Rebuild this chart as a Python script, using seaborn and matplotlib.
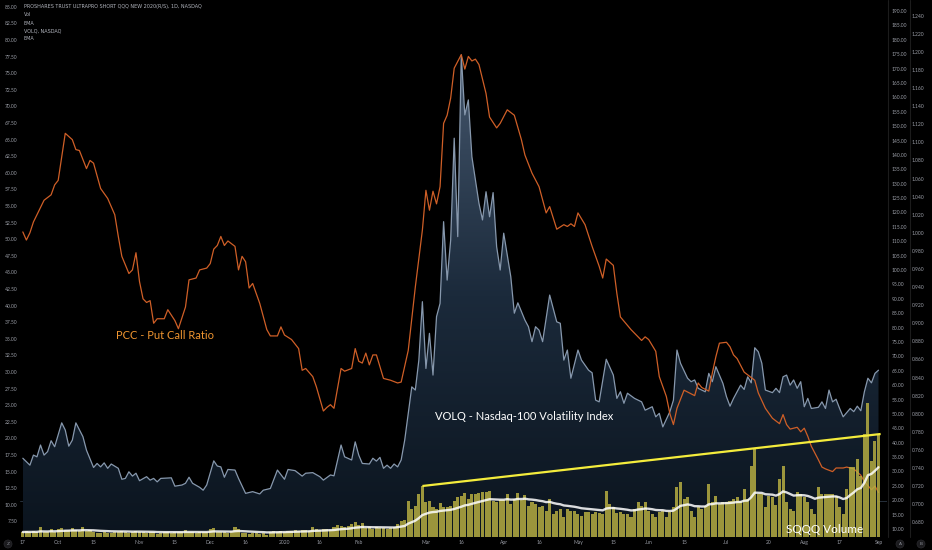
import matplotlib
matplotlib.use("Agg")
import matplotlib.pyplot as plt
from matplotlib.colors import LinearSegmentedColormap
from matplotlib.lines import Line2D
from matplotlib.patches import Polygon
import numpy as np
import pandas as pd
import seaborn as sns

W, H = 932, 550

# trading sessions on the chart (NYSE calendar)
holidays = ["2019-11-28", "2019-12-25", "2020-01-01", "2020-01-20",
            "2020-02-17", "2020-04-10", "2020-05-25", "2020-07-03"]
sessions = pd.bdate_range("2019-09-17", "2020-09-01", freq="C", holidays=holidays)

tick_dates = ["2019-09-17", "2019-10-01", "2019-10-15", "2019-11-01", "2019-11-15",
              "2019-12-02", "2019-12-16", "2020-01-02", "2020-01-16", "2020-02-03",
              "2020-03-02", "2020-03-16", "2020-04-01", "2020-04-16", "2020-05-01",
              "2020-05-15", "2020-06-01", "2020-06-15", "2020-07-01", "2020-07-20",
              "2020-08-03", "2020-08-17", "2020-09-01"]
tick_labels = ["17", "Oct", "15", "Nov", "15", "Dec", "16", "2020", "16", "Feb",
               "Mar", "16", "Apr", "16", "May", "15", "Jun", "15", "Jul", "20",
               "Aug", "17", "Sep"]

# SQQQ daily volume (approx, one value per session)
sqqq_volume = [
    5, 6, 5, 6, 5, 10, 5, 5, 8, 5,
    8, 9, 7, 7, 9, 7, 6, 10, 6, 7,
    5, 4, 4, 5, 4, 4, 5, 5, 6, 5,
    4, 5, 6, 5, 5, 4, 5, 5, 3, 4,
    5, 5, 4, 5, 5, 5, 7, 5, 5, 4,
    5, 5, 5, 8, 9, 5, 5, 5, 4, 6,
    10, 8, 4, 4, 3, 4, 4, 3, 4, 2,
    5, 6, 5, 6, 5, 6, 6, 7, 6, 7,
    7, 6, 10, 8, 7, 8, 8, 7, 10, 12,
    11, 10, 11, 13, 15, 12, 14, 9, 10, 8,
    10, 9, 9, 8, 9, 10, 13, 16, 17, 36,
    28, 31, 43, 51, 35, 36, 30, 28, 34, 30,
    30, 31, 36, 40, 41, 44, 38, 43, 43, 44,
    45, 45, 46, 36, 35, 37, 37, 43, 33, 38,
    44, 37, 42, 31, 35, 33, 30, 31, 26, 38,
    23, 26, 28, 20, 28, 26, 26, 23, 21, 25,
    25, 23, 25, 24, 23, 46, 33, 30, 24, 25,
    23, 23, 20, 28, 35, 31, 35, 26, 23, 20,
    25, 26, 20, 25, 30, 50, 55, 38, 40, 26,
    20, 30, 28, 31, 53, 35, 41, 33, 35, 35,
    36, 38, 40, 36, 48, 38, 71, 88, 43, 43,
    30, 41, 40, 32, 58, 71, 35, 28, 26, 45,
    43, 40, 35, 28, 23, 50, 43, 43, 43, 43,
    41, 30, 23, 48, 70, 70, 78, 61, 103, 134,
    76, 96, 103,
]

# PCC put/call ratio, session number -> value
pcc_day = [0, 1, 2, 3, 4, 6, 7, 8, 9, 10, 12, 14,
           15, 16, 18, 19, 20, 22, 24, 26, 27, 28, 30, 31,
           32, 33, 34, 35, 36, 37, 38, 40, 41, 43, 44, 46,
           47, 49, 50, 52, 53, 54, 55, 56, 57, 58, 60, 61,
           62, 63, 64, 65, 67, 69, 70, 72, 73, 74, 76, 78,
           79, 80, 82, 83, 85, 86, 87, 88, 90, 91, 93, 94,
           95, 96, 97, 98, 99, 100, 102, 104, 106, 107, 109, 111,
           113, 114, 115, 116, 117, 118, 119, 120, 121, 122, 124, 125,
           126, 127, 128, 129, 131, 132, 134, 135, 137, 139, 141, 142,
           144, 146, 148, 149, 151, 153, 154, 155, 156, 157, 159, 161,
           163, 164, 165, 167, 168, 169, 172, 174, 175, 176, 177, 179,
           180, 182, 183, 184, 185, 187, 188, 190, 191, 192, 194, 195,
           196, 197, 199, 200, 201, 202, 204, 206, 207, 208, 210, 212,
           214, 215, 216, 217, 219, 220, 221, 222, 223, 225, 226, 227,
           229, 230, 232, 233, 235, 237, 238, 240, 241, 242]
pcc = [1.001, 0.992, 1.000, 1.012, 1.020, 1.036, 1.039, 1.042, 1.053, 1.058, 1.110, 1.103,
       1.092, 1.091, 1.071, 1.080, 1.077, 1.049, 1.038, 1.020, 0.996, 0.974, 0.955, 0.959,
       0.978, 0.946, 0.927, 0.923, 0.925, 0.900, 0.905, 0.905, 0.915, 0.903, 0.894, 0.918,
       0.948, 0.950, 0.959, 0.961, 0.966, 0.982, 0.986, 0.996, 0.986, 0.991, 0.985, 0.959,
       0.974, 0.968, 0.939, 0.944, 0.922, 0.893, 0.886, 0.886, 0.896, 0.887, 0.882, 0.872,
       0.848, 0.850, 0.841, 0.830, 0.803, 0.807, 0.810, 0.806, 0.850, 0.847, 0.850, 0.872,
       0.858, 0.856, 0.867, 0.854, 0.865, 0.865, 0.839, 0.837, 0.834, 0.835, 0.870, 0.940,
       1.003, 1.047, 1.025, 1.046, 1.032, 1.051, 1.121, 1.130, 1.149, 1.182, 1.197, 1.181,
       1.195, 1.190, 1.192, 1.186, 1.154, 1.128, 1.116, 1.121, 1.136, 1.130, 1.103, 1.086,
       1.066, 1.051, 1.022, 1.029, 1.004, 1.009, 1.007, 1.010, 1.007, 1.022, 1.009, 0.985,
       0.963, 0.950, 0.971, 0.964, 0.933, 0.907, 0.893, 0.885, 0.881, 0.885, 0.882, 0.869,
       0.841, 0.819, 0.800, 0.788, 0.806, 0.826, 0.824, 0.820, 0.834, 0.829, 0.825, 0.845,
       0.863, 0.878, 0.879, 0.874, 0.865, 0.861, 0.846, 0.840, 0.837, 0.823, 0.806, 0.795,
       0.789, 0.799, 0.788, 0.783, 0.785, 0.780, 0.784, 0.775, 0.764, 0.749, 0.741, 0.739,
       0.736, 0.740, 0.740, 0.741, 0.739, 0.732, 0.725, 0.716, 0.720, 0.713]

# VOLQ Nasdaq-100 volatility index, session number -> value
volq_day = [0, 2, 3, 4, 5, 6, 7, 8, 9, 11, 12, 13,
            14, 15, 17, 18, 20, 21, 22, 23, 24, 25, 27, 28,
            29, 30, 31, 32, 33, 35, 36, 37, 38, 39, 42, 43,
            45, 46, 47, 48, 50, 51, 52, 54, 55, 56, 57, 58,
            60, 61, 63, 65, 67, 68, 70, 72, 74, 75, 77, 79,
            80, 82, 84, 85, 87, 88, 90, 91, 93, 94, 95, 96,
            98, 99, 100, 101, 102, 103, 104, 105, 106, 107, 108, 110,
            111, 112, 113, 114, 115, 116, 117, 118, 119, 120, 121, 122,
            123, 124, 125, 126, 127, 128, 129, 130, 131, 132, 133, 134,
            135, 136, 138, 139, 140, 142, 143, 144, 145, 146, 147, 148,
            149, 151, 152, 153, 154, 155, 157, 158, 160, 161, 162, 163,
            165, 167, 168, 169, 170, 171, 173, 175, 176, 178, 179, 180,
            181, 183, 184, 185, 186, 188, 189, 190, 191, 192, 193, 194,
            195, 196, 198, 199, 200, 201, 203, 204, 205, 206, 207, 208,
            209, 210, 212, 213, 214, 215, 216, 217, 218, 219, 220, 221,
            222, 223, 225, 226, 227, 228, 229, 230, 231, 232, 234, 235,
            236, 237, 238, 239, 240, 241, 242]
volq = [34.6, 32.2, 35.7, 35.1, 39.2, 35.7, 36.9, 40.7, 38.6, 46.9, 44.4, 38.8,
        40.9, 46.9, 42.1, 37.4, 31.4, 32.8, 31.6, 33.0, 31.1, 32.6, 31.1, 27.3,
        27.6, 29.9, 28.4, 29.4, 26.8, 28.2, 27.0, 27.6, 26.4, 27.6, 27.8, 24.9,
        25.3, 25.9, 28.0, 25.9, 24.5, 23.5, 25.3, 33.7, 31.9, 31.6, 28.0, 30.7,
        30.5, 27.6, 22.4, 23.0, 22.2, 23.5, 24.1, 30.5, 27.3, 30.7, 30.3, 28.4,
        29.4, 29.6, 28.2, 27.0, 28.8, 28.5, 39.2, 35.1, 34.0, 40.3, 35.7, 32.8,
        32.6, 34.6, 33.6, 34.9, 31.1, 32.2, 31.1, 32.6, 31.6, 34.0, 40.9, 59.4,
        58.3, 68.7, 89.0, 65.8, 78.0, 63.5, 83.8, 88.4, 116.8, 96.5, 110.4, 145.8,
        111.6, 174.7, 153.9, 159.1, 139.4, 131.3, 123.2, 117.4, 127.2, 118.5, 126.9, 108.1,
        100.0, 112.8, 97.7, 85.0, 88.6, 82.6, 80.3, 75.1, 80.3, 79.1, 75.1, 83.2,
        91.3, 82.0, 81.5, 68.7, 72.2, 62.4, 72.2, 68.7, 65.2, 64.3, 54.8, 54.2,
        69.0, 63.5, 55.4, 57.7, 53.7, 57.2, 55.4, 54.2, 51.3, 52.5, 49.0, 50.2,
        45.5, 50.8, 54.8, 72.2, 67.6, 62.4, 61.2, 61.8, 58.9, 58.3, 57.7, 64.1,
        61.2, 66.4, 60.6, 56.0, 52.7, 55.4, 60.0, 58.5, 62.9, 60.8, 73.0, 71.6,
        67.6, 58.3, 57.4, 58.9, 57.4, 62.9, 63.5, 60.0, 61.8, 58.9, 61.2, 52.5,
        55.4, 51.9, 52.3, 54.2, 51.9, 58.3, 54.2, 55.1, 51.9, 49.0, 51.9, 50.8,
        52.7, 51.1, 57.7, 62.4, 60.8, 64.1, 65.2]

sqqq_last = 10.55  # price line of the main symbol (left scale)
trend_from, trend_to = "2020-02-28", "2020-09-01"

sns.set_theme(style="dark", rc={
    "figure.facecolor": "black", "axes.facecolor": "black",
    "axes.edgecolor": "black", "axes.grid": False,
    "xtick.color": "#9a9da6", "ytick.color": "#9a9da6",
})
plt.rcParams["font.family"] = ["Lato", "DejaVu Sans"]

day = np.arange(len(sessions))
vol = pd.DataFrame({"day": day, "volume": sqqq_volume})
vol["ema"] = vol.volume.ewm(span=20, adjust=False).mean()
pcc_df = pd.DataFrame({"day": pcc_day, "pcc": pcc})
volq_df = pd.DataFrame({"day": volq_day, "volq": volq})

fig = plt.figure(figsize=(W / 100, H / 100), dpi=100)
ax = fig.add_axes([20 / W, 13 / H, 867 / W, 537 / H])
ax_volq = ax.twinx()
ax_pcc = ax.twinx()
ax_vol = ax.twinx()

xlim = (-0.8, 244.4)
tick_size = 3.6
grey = "#9a9da6"

# main symbol scale (left)
ax.axhline(sqqq_last, color="#27303b", lw=0.7)
ax.set_ylim(5.14, 86.01)
ax.set_yticks(np.arange(7.5, 85.01, 2.5))
ax.set_yticklabels([f"{v:.2f}" for v in np.arange(7.5, 85.01, 2.5)])
ax.tick_params(axis="y", length=0, pad=2, labelsize=tick_size, labelcolor=grey)
ax.set_xticks(sessions.get_indexer(pd.to_datetime(tick_dates)))
ax.set_xticklabels(tick_labels)
ax.tick_params(axis="x", length=0, pad=2, labelsize=tick_size, labelcolor=grey)

# VOLQ area with vertical gradient
ylo_volq, yhi_volq = 7.24, 193.82
verts = list(zip(volq_day, volq)) + [(volq_day[-1], ylo_volq), (volq_day[0], ylo_volq)]
clip = Polygon(verts, closed=True, facecolor="none", edgecolor="none")
ax_volq.add_patch(clip)
cmap = LinearSegmentedColormap.from_list("volq", ["#0b141e", "#1b2a3b", "#44566c"])
grad = np.linspace(0, 1, 256).reshape(-1, 1)
im = ax_volq.imshow(grad, extent=[volq_day[0], volq_day[-1], ylo_volq, max(volq)],
                    origin="lower", aspect="auto", cmap=cmap, zorder=1)
im.set_clip_path(clip)
sns.lineplot(data=volq_df, x="day", y="volq", ax=ax_volq, color="#8798ad",
             lw=0.9, estimator=None, zorder=2)
ax_volq.set_ylim(ylo_volq, yhi_volq)
ax_volq.set_yticks(np.arange(10, 190.1, 5))
ax_volq.set_yticklabels([f"{v:.2f}" for v in np.arange(10, 190.1, 5)])
ax_volq.tick_params(axis="y", length=0, pad=3.5, labelsize=tick_size, labelcolor=grey)

# PCC line (far right scale)
sns.lineplot(data=pcc_df, x="day", y="pcc", ax=ax_pcc, color="#cf5f27",
             lw=0.9, estimator=None)
ax_pcc.spines["right"].set_position(("outward", 17))
ax_pcc.set_ylim(0.6637, 1.2574)
ax_pcc.set_yticks(np.arange(0.68, 1.2401, 0.02))
ax_pcc.set_yticklabels([f"{v:.3f}" for v in np.arange(0.68, 1.2401, 0.02)])
ax_pcc.tick_params(axis="y", length=0, pad=1, labelsize=tick_size, labelcolor=grey)

# SQQQ volume bars, EMA and trend line
ax_vol.bar(vol.day, vol.volume, width=0.86, color="#b8af42", alpha=0.84,
           edgecolor="none", linewidth=0, zorder=2)
sns.lineplot(data=vol, x="day", y="ema", ax=ax_vol, color="white", alpha=0.85,
             lw=1.7, zorder=3)
i0, i1 = sessions.get_indexer(pd.to_datetime([trend_from, trend_to]))
ax_vol.plot([i0, i1 + 0.6], [sqqq_volume[i0], sqqq_volume[i1]], color="#f4ec3c",
            lw=1.6, zorder=4, solid_capstyle="butt")
ax_vol.set_ylim(0, 537)
ax_vol.set_yticks([])

for a in (ax, ax_volq, ax_pcc, ax_vol):
    a.set_xlim(*xlim)
    a.set_xlabel("")
    a.set_ylabel("")
    for s in a.spines.values():
        s.set_visible(False)


def fig_xy(x, y):
    return x / W, 1 - y / H


# scale separators
for x in (887.5, 909.5):
    fig.add_artist(Line2D([x / W, x / W], [13 / H, 1], color="#1c1c1c", lw=0.8))

# header legend
header = ["PROSHARES TRUST ULTRAPRO SHORT QQQ NEW 2020(R/S), 1D, NASDAQ",
          "Vol", "EMA", "VOLQ, NASDAQ", "EMA"]
for y, txt in zip([6.7, 15, 23.3, 31, 39], header):
    fig.text(*fig_xy(24, y), txt, fontsize=3.5, color="#b2b5be", va="center",
             family=["DejaVu Sans"])

# annotations
fig.text(*fig_xy(116.5, 335.7), "PCC - Put Call Ratio", color="#ef9530",
         fontsize=8, va="center")
fig.text(*fig_xy(435, 416.7), "VOLQ - Nasdaq-100 Volatility Index", color="white",
         fontsize=8, va="center")
fig.text(*fig_xy(786, 529.5), "SQQQ Volume", color="white", fontsize=8.5,
         va="center")

# small scale buttons
for x, t in [(8, "Z"), (900, "A"), (921, "B")]:
    fig.text(*fig_xy(x, 544), t, fontsize=3.2, color="#8a8d96", ha="center",
             va="center", family=["DejaVu Sans"],
             bbox=dict(boxstyle="circle,pad=0.45", fc="#1b1b1e", ec="#2a2a2e", lw=0.5))

fig.savefig("out.png", dpi=100, facecolor="black")
